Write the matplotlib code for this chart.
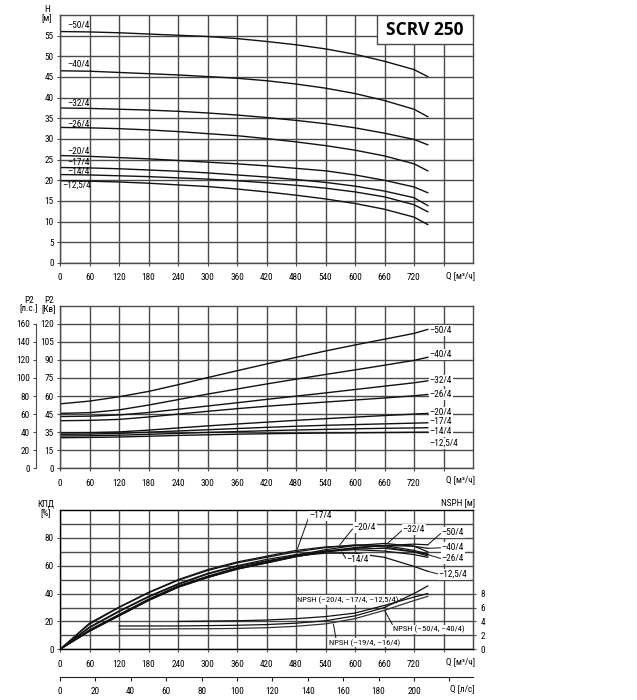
import matplotlib.pyplot as plt
from matplotlib import font_manager as fm
from matplotlib.patches import Rectangle

# pick a condensed face if one is installed, the reference uses a narrow font
ttf = fm.fontManager.ttflist
names = {f.name for f in ttf}
narrow, stretch = None, 'normal'
for name in ['Liberation Sans Narrow', 'Roboto Condensed', 'Open Sans Condensed',
             'Noto Sans Condensed', 'DejaVu Sans Condensed']:
    if name in names:
        narrow = name
        break
if narrow is None:
    for f in ttf:
        if f.name in ('DejaVu Sans', 'Noto Sans', 'Open Sans', 'Roboto', 'Liberation Sans') \
                and str(f.stretch) in ('condensed', 'semi-condensed', 'extra-condensed'):
            narrow, stretch = f.name, str(f.stretch)
            break
if narrow is None:
    narrow = 'Liberation Sans'
    fs, fs_long = 6.3, 5.6
else:
    fs, fs_long = 6.7, 6.1

plt.rcParams['font.family'] = [narrow, 'DejaVu Sans']
plt.rcParams['font.stretch'] = stretch
plt.rcParams['font.size'] = fs

# --- data ---
q = [0, 60, 120, 180, 240, 300, 360, 420, 480, 540, 600, 660, 720, 748]
models = ['–50/4', '–40/4', '–32/4', '–26/4', '–20/4', '–17/4', '–14/4', '–12,5/4']

# head H [m]
h_50 = [56.0, 55.9, 55.7, 55.4, 55.1, 54.8, 54.3, 53.6, 52.8, 51.8, 50.5, 48.8, 46.8, 45.1]
h_40 = [46.5, 46.4, 46.1, 45.8, 45.5, 45.1, 44.7, 44.1, 43.3, 42.3, 41.0, 39.3, 37.2, 35.4]
h_32 = [37.5, 37.4, 37.2, 37.0, 36.7, 36.3, 35.8, 35.2, 34.5, 33.7, 32.7, 31.4, 29.9, 28.6]
h_26 = [32.8, 32.7, 32.5, 32.2, 31.8, 31.3, 30.8, 30.1, 29.3, 28.4, 27.3, 25.9, 24.0, 22.3]
h_20 = [26.0, 25.8, 25.5, 25.2, 24.8, 24.4, 24.0, 23.5, 22.9, 22.3, 21.3, 20.0, 18.4, 17.0]
h_17 = [23.1, 23.0, 22.8, 22.5, 22.2, 21.8, 21.3, 20.8, 20.2, 19.5, 18.6, 17.4, 15.8, 13.9]
h_14 = [21.4, 21.3, 21.1, 20.9, 20.6, 20.3, 19.9, 19.4, 18.8, 18.1, 17.2, 16.0, 14.1, 12.4]
h_125 = [19.9, 19.8, 19.6, 19.3, 18.9, 18.5, 17.9, 17.2, 16.4, 15.5, 14.4, 13.0, 11.1, 9.3]
h_label_pos = [(14, 57.4), (14, 48.1), (14, 38.5), (14, 33.5),
               (14, 27.0), (14, 24.2), (14, 22.1), (5, 18.8)]

# power P2 [kW]
p_50 = [53.5, 55.8, 59.4, 63.8, 69.4, 75.3, 81.0, 86.6, 92.1, 97.4, 102.4, 107.2, 112.0, 115.3]
p_40 = [45.6, 46.2, 48.5, 52.5, 57.0, 61.6, 65.8, 70.0, 74.0, 77.9, 81.7, 85.6, 89.6, 92.2]
p_32 = [43.0, 43.3, 44.3, 46.3, 49.0, 51.7, 54.4, 57.2, 59.9, 62.6, 65.4, 68.2, 71.0, 72.6]
p_26 = [39.5, 39.8, 40.6, 42.6, 45.0, 47.3, 49.5, 51.5, 53.3, 55.0, 56.7, 58.4, 60.2, 61.3]
p_20 = [29.5, 29.6, 30.2, 31.7, 33.5, 35.2, 36.8, 38.3, 39.8, 41.2, 42.5, 43.8, 45.0, 45.6]
p_17 = [28.2, 28.4, 29.0, 30.0, 31.0, 32.0, 33.0, 34.0, 34.9, 35.7, 36.3, 36.9, 37.5, 37.8]
p_14 = [26.8, 27.0, 27.5, 28.2, 29.0, 29.8, 30.5, 31.2, 31.8, 32.3, 32.8, 33.2, 33.5, 33.7]
p_125 = [25.4, 25.6, 26.0, 26.6, 27.3, 27.8, 28.3, 28.7, 29.0, 29.3, 29.5, 29.7, 29.9, 30.0]
p_label_y = [114.6, 94.5, 72.6, 61.6, 46.5, 38.6, 30.4, 20.5]

# efficiency [%]
e_50 = [0, 13.0, 24.0, 35.0, 44.5, 51.5, 57.5, 62.0, 66.5, 70.0, 72.5, 74.5, 75.5, 75.0]
e_40 = [0, 13.5, 24.5, 35.5, 45.0, 52.0, 58.0, 62.5, 67.0, 70.5, 73.0, 74.5, 74.0, 72.5]
e_32 = [0, 14.0, 25.0, 36.0, 45.5, 52.5, 58.5, 63.0, 67.5, 71.5, 74.5, 76.0, 74.0, 70.0]
e_26 = [0, 13.0, 24.0, 35.0, 44.5, 51.5, 57.5, 62.0, 66.5, 70.0, 72.0, 72.5, 70.0, 68.0]
e_20 = [0, 18.0, 30.0, 40.5, 49.5, 56.5, 62.0, 66.0, 70.0, 73.0, 75.0, 74.5, 71.0, 68.5]
e_17 = [0, 18.8, 30.3, 40.9, 50.0, 57.2, 62.7, 66.8, 71.0, 73.5, 74.5, 73.5, 70.0, 67.0]
e_14 = [0, 16.0, 27.5, 38.0, 47.0, 54.5, 60.0, 64.5, 68.0, 70.5, 71.5, 70.5, 68.0, 66.0]
e_125 = [0, 15.5, 27.0, 37.5, 46.5, 54.0, 59.5, 63.5, 67.0, 69.0, 69.0, 66.0, 59.5, 56.0]

# NPSH [m]
q_npsh_a = [240, 300, 360, 420, 480, 540, 600, 660, 720, 748]
npsh_a = [4.0, 4.05, 4.1, 4.2, 4.4, 4.7, 5.2, 6.3, 7.5, 8.0]      # -20/4, -17/4, -12,5/4
q_npsh_b = [120, 180, 240, 300, 360, 420, 480, 540, 600, 660, 720, 748]
npsh_b = [3.35, 3.35, 3.35, 3.4, 3.45, 3.55, 3.75, 4.1, 4.8, 6.0, 8.0, 9.1]  # -50/4, -40/4
npsh_c = [2.9, 2.9, 2.95, 2.95, 3.0, 3.1, 3.3, 3.65, 4.4, 5.6, 7.0, 7.6]     # -19/4, -16/4

heads = [h_50, h_40, h_32, h_26, h_20, h_17, h_14, h_125]
powers = [p_50, p_40, p_32, p_26, p_20, p_17, p_14, p_125]
effs = [e_50, e_40, e_32, e_26, e_20, e_17, e_14, e_125]

q_ticks = list(range(0, 781, 60))
q_ticklabels = [str(v) for v in range(0, 721, 60)] + ['']
ls_ticks = list(range(0, 221, 20))
ls_ticklabels = [str(v) for v in range(0, 201, 20)] + ['']
kw_ticks = list(range(0, 121, 15))
kw_ticklabels = ['0', '15', '35', '45', '60', '75', '90', '105', '120']
hp_ticklabels = ['0', '20', '40', '60', '80', '100', '120', '140', '160']

GRID = '#4a4a4a'
LINE = '#111111'
W, H = 637, 700


def rect(top, bottom):
    return [60 / W, 1 - bottom / H, 413 / W, (bottom - top) / H]


def frame(ax):
    ax.set_xlim(0, 840)
    ax.set_xticks(q_ticks)
    ax.set_xticklabels(q_ticklabels)
    ax.grid(True, which='both', color=GRID, lw=1.0)
    ax.set_axisbelow(True)
    for s in ax.spines.values():
        s.set_color(GRID)
        s.set_linewidth(1.0)
    ax.tick_params(which='both', direction='out', length=2.5, width=0.8, color=GRID, pad=2)
    ax.tick_params(axis='x', pad=5)


fig = plt.figure(figsize=(6.37, 7.0), dpi=100)
white_box = dict(boxstyle='square,pad=0.1', fc='white', ec='none')

# --- head chart ---
axh = fig.add_axes(rect(15, 263))
frame(axh)
axh.set_ylim(0, 60)
axh.set_yticks(range(0, 56, 5))
for y, lab, pos in zip(heads, models, h_label_pos):
    axh.plot(q, y, color=LINE, lw=1.0)
    axh.text(pos[0], pos[1], lab, ha='left', va='center')
axh.add_patch(Rectangle((0.7676, 0.883), 0.2324, 0.117, transform=axh.transAxes,
                        fc='white', ec=GRID, lw=1.0, zorder=5))
axh.text(0.884, 0.94, 'SCRV 250', transform=axh.transAxes, ha='center', va='center',
         fontsize=12.5, fontweight='bold', family=['Open Sans', 'DejaVu Sans'],
         stretch='normal', zorder=6)
fig.text(47 / W, 1 - 14 / H, 'H\n[м]', ha='center', va='center', linespacing=1.0)
fig.text(475 / W, 1 - 276 / H, 'Q [м³/ч]', ha='right', va='center')

# --- power chart ---
axp = fig.add_axes(rect(305.7, 468.3))
frame(axp)
axp.set_ylim(0, 135)
axp.set_yticks(kw_ticks)
axp.set_yticklabels(kw_ticklabels)
for y, lab, ly in zip(powers, models, p_label_y):
    axp.plot(q, y, color=LINE, lw=1.0)
    axp.text(752, ly, lab, ha='left', va='center', bbox=white_box, zorder=4)
axhp = axp.twinx()
axhp.set_ylim(0, 135)
axhp.yaxis.tick_left()
axhp.set_yticks(kw_ticks)
axhp.set_yticklabels(hp_ticklabels)
for k in ['right', 'top', 'bottom']:
    axhp.spines[k].set_visible(False)
axhp.spines['left'].set_position(('outward', 17.3))
axhp.spines['left'].set_bounds(0, 120)
axhp.spines['left'].set_color(GRID)
axhp.tick_params(direction='out', length=2.5, width=0.8, color=GRID, pad=2)
fig.text(29 / W, 1 - 304.5 / H, 'P2\n[л.с.]', ha='center', va='center', linespacing=1.0)
fig.text(49 / W, 1 - 304.5 / H, 'P2\n[Кв]', ha='center', va='center', linespacing=1.0)
fig.text(475 / W, 1 - 479.5 / H, 'Q [м³/ч]', ha='right', va='center')

# --- efficiency / NPSH chart ---
axe = fig.add_axes(rect(510, 649.3))
frame(axe)
axe.set_ylim(0, 100)
axe.set_yticks(range(0, 81, 20))
axe.set_yticks(range(10, 100, 10), minor=True)
axe.tick_params(axis='y', which='minor', length=0)
for y in effs:
    axe.plot(q, y, color=LINE, lw=0.9)

leader = dict(arrowstyle='-', lw=0.7, color=LINE, shrinkA=0, shrinkB=0)
eff_notes = [
    ('–17/4', (483, 72.2), (507, 95.9)),
    ('–20/4', (569, 75.0), (597, 87.3)),
    ('–32/4', (666, 76.0), (697, 85.8)),
    ('–14/4', (573, 70.0), (583, 64.2)),
    ('–50/4', (748, 75.0), (776, 83.7)),
    ('–40/4', (748, 72.5), (776, 72.9)),
    ('–26/4', (748, 68.0), (776, 65.0)),
    ('–12,5/4', (748, 56.0), (770, 54.0)),
]
for lab, xy, xyt in eff_notes:
    axe.annotate(lab, xy=xy, xytext=xyt, ha='left', va='center',
                 bbox=white_box, zorder=4,
                 arrowprops=dict(leader, relpos=(0, 0.5)))

axn = axe.twinx()
axn.set_ylim(0, 20)
axn.set_yticks(range(0, 9, 2))
axn.spines['right'].set_color(GRID)
axn.tick_params(direction='out', length=2.5, width=0.8, color=GRID, pad=3)
axn.plot(q_npsh_a, npsh_a, color=LINE, lw=0.9)
axn.plot(q_npsh_b, npsh_b, color=LINE, lw=0.9)
axn.plot(q_npsh_b, npsh_c, color='#333333', lw=0.9)

npsh_notes = [
    ('NPSH (–20/4, –17/4, –12,5/4)', (692, 36.4), (483, 35.5), (1, 0.8)),
    ('NPSH (–50/4, –40/4)', (660, 28.0), (677, 14.4), (0, 1)),
    ('NPSH (–19/4, –16/4)', (556, 18.2), (547, 4.7), (0.1, 1)),
]
for lab, xy, xyt, rp in npsh_notes:
    axe.annotate(lab, xy=xy, xytext=xyt, ha='left', va='center', fontsize=fs_long,
                 bbox=white_box, zorder=4,
                 arrowprops=dict(leader, relpos=rp))

fig.text(46 / W, 1 - 508 / H, 'КПД\n[%]', ha='center', va='center', linespacing=1.0)
fig.text(475 / W, 1 - 503 / H, 'NSPH [м]', ha='right', va='center')
fig.text(475 / W, 1 - 662 / H, 'Q [м³/ч]', ha='right', va='center')

# --- second flow axis in l/s ---
axl = fig.add_axes([60 / W, 1 - 677.3 / H, 413 / W, 0.0005])
axl.set_xlim(0, 840 / 3.6)
axl.set_ylim(0, 1)
axl.set_xticks(ls_ticks)
axl.set_xticklabels(ls_ticklabels)
axl.set_yticks([])
for k in ['left', 'right', 'top']:
    axl.spines[k].set_visible(False)
axl.spines['bottom'].set_color('#222222')
axl.tick_params(axis='x', length=3, width=0.8, color='#222222', pad=4)
axl.patch.set_alpha(0)
fig.text(475 / W, 1 - 689 / H, 'Q [л/с]', ha='right', va='center')

fig.savefig('out.png', dpi=100, facecolor='white')
